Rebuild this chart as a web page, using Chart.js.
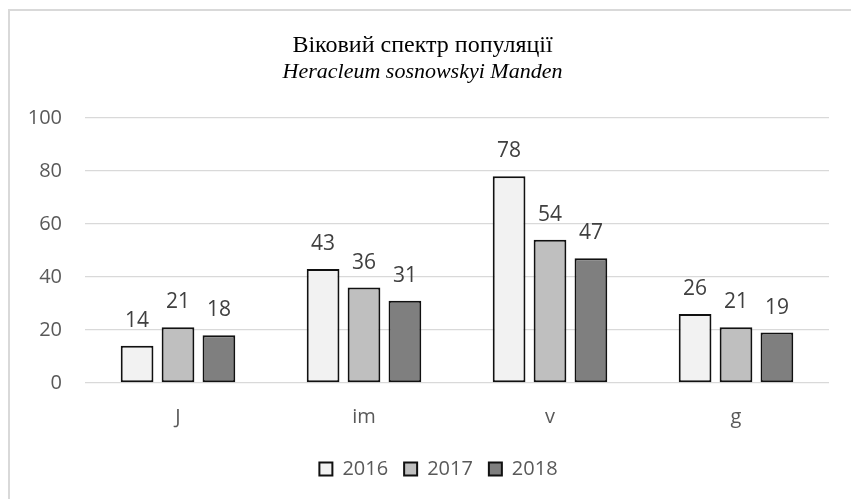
<!DOCTYPE html>
<html lang="uk">
<head>
<meta charset="UTF-8">
<title>Віковий спектр популяції</title>
<script src="https://cdn.jsdelivr.net/npm/chart.js"></script>
<style>
  html, body { margin: 0; padding: 0; background: #fff; }
  .wrap { position: relative; width: 851px; height: 499px; }
</style>
</head>
<body>
<div class="wrap">
  <canvas id="grafik" width="851" height="499"></canvas>
</div>
<script>
const categories = ['J', 'im', 'v', 'g'];
const years = ['2016', '2017', '2018'];
const values2016 = [14, 43, 78, 26];
const values2017 = [21, 36, 54, 21];
const values2018 = [18, 31, 47, 19];
const yTicks = [0, 20, 40, 60, 80, 100];

const fills = ['#f2f2f2', '#bfbfbf', '#7f7f7f'];
const sans = "'Open Sans', 'Noto Sans', sans-serif";
const serif = "'Liberation Serif', 'DejaVu Serif', serif";

// frame around the chart, like the office chart border
const frame = {
  id: 'frame',
  beforeDraw(chart) {
    const c = chart.ctx;
    c.save();
    c.fillStyle = '#fff';
    c.fillRect(0, 0, chart.width, chart.height);
    c.strokeStyle = '#d9d9d9';
    c.lineWidth = 2;
    c.beginPath();
    c.moveTo(9, chart.height + 2);
    c.lineTo(9, 10);
    c.lineTo(chart.width + 2, 10);
    c.stroke();
    c.restore();
  }
};

// titles and legend sit a bit right of the canvas middle in the original
const nudge = {
  id: 'nudge',
  afterLayout(chart) {
    chart.boxes.forEach(b => {
      if (b.options && typeof b.options.text === 'string') {
        b.left += 8; b.right += 8;
      }
    });
    if (chart.legend) { chart.legend.left += 24; chart.legend.right += 24; }
  }
};

// values above the bars
const barLabels = {
  id: 'barLabels',
  afterDatasetsDraw(chart) {
    const c = chart.ctx;
    c.save();
    c.font = '21px ' + sans;
    c.fillStyle = '#404040';
    c.textAlign = 'center';
    c.textBaseline = 'middle';
    chart.data.datasets.forEach((ds, i) => {
      chart.getDatasetMeta(i).data.forEach((bar, j) => {
        c.fillText(ds.data[j], bar.x, bar.y - 25);
      });
    });
    c.restore();
  }
};

const sets = [values2016, values2017, values2018].map((v, i) => ({
  label: years[i],
  data: v,
  backgroundColor: fills[i],
  borderColor: '#111',
  borderWidth: 2,
  borderSkipped: false,
  categoryPercentage: 0.66,
  barPercentage: 0.8
}));

new Chart(document.getElementById('grafik'), {
  type: 'bar',
  data: { labels: categories, datasets: sets },
  plugins: [frame, nudge, barLabels],
  options: {
    responsive: false,
    animation: false,
    layout: { padding: { left: 0, right: 22, top: 0, bottom: 10 } },
    plugins: {
      title: {
        display: true,
        text: 'Віковий спектр популяції',
        color: '#000',
        font: { family: serif, size: 24, weight: 'normal', lineHeight: 1.1 },
        padding: { top: 33, bottom: 0 }
      },
      subtitle: {
        display: true,
        text: 'Heracleum sosnowskyi Manden',
        color: '#000',
        font: { family: serif, size: 22, style: 'italic', weight: 'normal', lineHeight: 1.2 },
        padding: { top: 0, bottom: 32 }
      },
      legend: {
        position: 'bottom',
        labels: {
          color: '#595959',
          font: { family: sans, size: 20 },
          boxWidth: 13,
          boxHeight: 13,
          padding: 16
        }
      },
      tooltip: { enabled: false }
    },
    scales: {
      x: {
        grid: { display: false },
        border: { display: false },
        ticks: { color: '#595959', font: { family: sans, size: 20 }, padding: 14 }
      },
      y: {
        min: 0,
        max: 100,
        afterFit(scale) { scale.width = 85; },
        afterBuildTicks(scale) { scale.ticks = yTicks.map(v => ({ value: v })); },
        grid: { color: '#d9d9d9', lineWidth: 1.3, drawTicks: false },
        border: { display: false },
        ticks: { color: '#595959', font: { family: sans, size: 20 }, padding: 23 }
      }
    }
  }
});
</script>
</body>
</html>
